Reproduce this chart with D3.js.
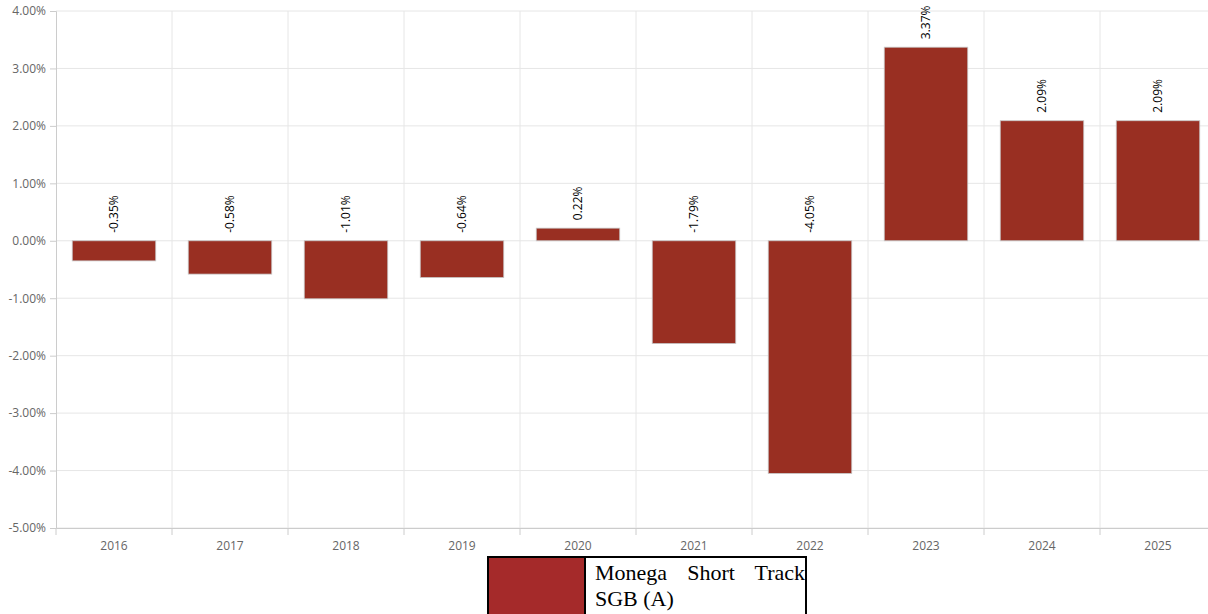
<!DOCTYPE html>
<html>
<head>
<meta charset="utf-8">
<script src="https://cdn.jsdelivr.net/npm/d3@7"></script>
<style>
  body { margin: 0; background: #fff; overflow: hidden; }
  #canvas { position: relative; width: 1208px; height: 614px; }
  .tick text { font-family: "Open Sans", sans-serif; font-size: 12px; fill: #666; }
  .legend { position: absolute; left: 487px; top: 556px; width: 320px; height: 70px;
    border: 2px solid #000; box-sizing: border-box; background: #fff; }
  .legend .swatch { position: absolute; left: 0; top: 0; width: 95px; height: 100%; background: #a52a2a; border-right: 2px solid #000; }
  .legend .txt { position: absolute; left: 106px; top: 2px; width: 210px;
    font-family: "Liberation Serif", serif; font-size: 22px; line-height: 26px; text-align: justify; color: #000; }
</style>
</head>
<body>
<div id="canvas"></div>
<script>
// jaren en rendement
const years = ['2016', '2017', '2018', '2019', '2020', '2021', '2022', '2023', '2024', '2025'];
const returns = [-0.35, -0.58, -1.01, -0.64, 0.22, -1.79, -4.05, 3.37, 2.09, 2.09];
const yTicks = [4, 3, 2, 1, 0, -1, -2, -3, -4, -5];
const seriesName = 'Monega Short Track SGB (A)';

const canvas = d3.select('#canvas');

const svg = canvas.append('svg')
.attr('width', 1208)
.attr('height', 614);

const x = d3.scaleBand()
.domain(years)
.range([56, 1216])
.paddingInner(0.28)
.paddingOuter(0.14);

const y = d3.scaleLinear()
.domain([-5, 4])
.range([528, 11]);

// grid
const step = x.step();
svg.append('g').selectAll('line')
.data(years)
.enter()
.append('line')
.attr('x1', function(d){ return x(d) - x.paddingOuter() * step + step; })
.attr('x2', function(d){ return x(d) - x.paddingOuter() * step + step; })
.attr('y1', 11).attr('y2', 528)
.attr('stroke', '#e6e6e6');

svg.append('g').selectAll('line')
.data(yTicks)
.enter()
.append('line')
.attr('x1', 56).attr('x2', 1208)
.attr('y1', function(d){ return y(d); })
.attr('y2', function(d){ return y(d); })
.attr('stroke', '#e6e6e6');

// y as
const yAxis = svg.append('g')
.attr('transform', 'translate(56,0)')
.call(d3.axisLeft(y).tickValues(yTicks).tickSize(6).tickPadding(4)
  .tickFormat(function(d){ return d.toFixed(2) + '%'; }));
yAxis.select('.domain').attr('stroke', '#ccc');
yAxis.selectAll('.tick line').attr('stroke', '#ccc');

// x as
const xAxis = svg.append('g')
.attr('transform', 'translate(0,528)')
.call(d3.axisBottom(x).tickSize(0).tickPadding(13));
xAxis.select('.domain').attr('stroke', '#ccc');
svg.append('g').selectAll('line')
.data(d3.range(years.length + 1))
.enter()
.append('line')
.attr('x1', function(i){ return 56 + i * step; })
.attr('x2', function(i){ return 56 + i * step; })
.attr('y1', 528).attr('y2', 535)
.attr('stroke', '#ccc');

// bars
svg.selectAll('.bar')
.data(returns)
.enter()
.append('rect')
.attr('class', 'bar')
.attr('x', function(d, i){ return x(years[i]); })
.attr('y', function(d){ return y(Math.max(d, 0)); })
.attr('width', x.bandwidth())
.attr('height', function(d){ return Math.abs(y(d) - y(0)); })
.attr('fill', '#992f22')
.attr('stroke', '#c8c8c8')
.attr('stroke-width', 0.8);

// labels
svg.selectAll('.label')
.data(returns)
.enter()
.append('text')
.attr('class', 'label')
.attr('transform', function(d, i){
  const cx = x(years[i]) + x.bandwidth() / 2;
  const cy = y(Math.max(d, 0)) - 8;
  return 'translate(' + (cx + 4) + ',' + cy + ') rotate(-90)';
})
.attr('font-family', '"Open Sans", sans-serif')
.attr('font-size', 12)
.attr('fill', '#000')
.text(function(d){ return d.toFixed(2) + '%'; });

// legend
const legend = canvas.append('div').attr('class', 'legend');
legend.append('div').attr('class', 'swatch');
legend.append('div').attr('class', 'txt').text(seriesName);
</script>
</body>
</html>
